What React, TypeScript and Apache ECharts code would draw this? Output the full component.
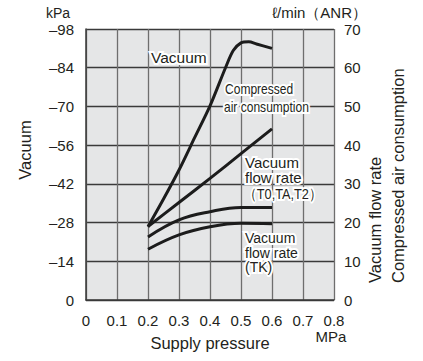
import React, { useEffect, useRef } from "react";
import * as echarts from "echarts";

// Supply pressure (MPa) sample points
const vacuumPressure = [0.2, 0.25, 0.3, 0.35, 0.4, 0.45, 0.475, 0.5, 0.525, 0.55, 0.6];
// Vacuum (kPa, magnitude; plotted on left axis)
const vacuumKPa = [26.5, 36.5, 47.0, 58.6, 70.2, 84.0, 90.2, 93.0, 93.4, 92.6, 91.0];

const flowPressure = [0.2, 0.3, 0.4, 0.5, 0.6];
// Compressed air consumption (l/min ANR)
const airConsumption = [19.0, 25.2, 31.4, 37.8, 44.2];
// Vacuum flow rate T0, TA, T2
const flowT0 = [16.3, 20.7, 22.8, 23.9, 23.9];
// Vacuum flow rate TK
const flowTK = [13.1, 16.8, 18.9, 19.8, 19.7];

const xTicks = { min: 0, max: 0.8, interval: 0.1 };
const leftTicks = { min: 0, max: 98, interval: 14 };
const rightTicks = { min: 0, max: 70, interval: 10 };

const FONT = "'Liberation Sans', Arial, Helvetica, sans-serif";
const INK = "#231f20";

function pairs(xs: number[], ys: number[]) {
  return xs.map((x, i) => [x, ys[i]]);
}

export default function App() {
  const ref = useRef<HTMLDivElement>(null);
  useEffect(() => {
    if (!ref.current) return;
    const chart = echarts.init(ref.current, undefined, { renderer: "svg" });
    const lineStyle = { color: "#1c1c1c", width: 3 };
    const labelStyle = (text: string, extra: any = {}) => ({
      text,
      fill: INK,
      fontSize: 15,
      fontFamily: FONT,
      stroke: "#fff",
      lineWidth: 4,
      align: "left",
      verticalAlign: "middle",
      ...extra,
    });
    const plainText = (text: string, extra: any = {}) => ({
      text,
      fill: INK,
      fontSize: 15,
      fontFamily: FONT,
      ...extra,
    });
    chart.setOption({
      animation: false,
      backgroundColor: "#ffffff",
      grid: { left: 86, top: 29, width: 248, height: 271, show: true, backgroundColor: "#e5e6e7", borderWidth: 0 },
      xAxis: {
        type: "value",
        ...xTicks,
        axisLine: { show: true, lineStyle: { color: "#3a3a3a", width: 1.5 } },
        axisTick: { show: false },
        splitLine: { show: true, lineStyle: { color: "#6e6e6e", width: 1.3 } },
        axisLabel: {
          margin: 13,
          fontSize: 15,
          fontFamily: FONT,
          color: INK,
          formatter: (v: number) => String(Math.round(v * 10) / 10),
        },
      },
      yAxis: [
        {
          type: "value",
          ...leftTicks,
          axisLine: { show: true, lineStyle: { color: "#3a3a3a", width: 1.5 } },
          axisTick: { show: false },
          splitLine: { show: true, lineStyle: { color: "#3a3a3a", width: 1.3 } },
          axisLabel: {
            margin: 12,
            fontSize: 15,
            fontFamily: FONT,
            color: INK,
            formatter: (v: number) => (v === 0 ? "0" : "–" + v),
          },
        },
        {
          type: "value",
          ...rightTicks,
          position: "right",
          axisLine: { show: false },
          axisTick: { show: false },
          splitLine: { show: false },
          axisLabel: { margin: 10, fontSize: 15, fontFamily: FONT, color: INK },
        },
      ],
      series: [
        { type: "line", yAxisIndex: 0, data: pairs(vacuumPressure, vacuumKPa), smooth: 0.3, symbol: "none", lineStyle },
        { type: "line", yAxisIndex: 1, data: pairs(flowPressure, airConsumption), smooth: 0.3, symbol: "none", lineStyle },
        { type: "line", yAxisIndex: 1, data: pairs(flowPressure, flowT0), smooth: 0.4, symbol: "none", lineStyle },
        { type: "line", yAxisIndex: 1, data: pairs(flowPressure, flowTK), smooth: 0.4, symbol: "none", lineStyle },
      ],
      graphic: [
        { type: "text", x: 46, y: 13, style: plainText("kPa", { fontSize: 14, align: "left", verticalAlign: "middle" }) },
        { type: "text", x: 367, y: 12, style: plainText("ℓ/min（ANR）", { align: "right", verticalAlign: "middle" }) },
        { type: "text", x: 25, y: 150, rotation: Math.PI / 2, style: plainText("Vacuum", { fontSize: 16.5, align: "center", verticalAlign: "middle" }) },
        { type: "text", x: 375, y: 283, rotation: Math.PI / 2, style: plainText("Vacuum flow rate", { fontSize: 16.5, align: "left", verticalAlign: "middle" }) },
        { type: "text", x: 398, y: 283, rotation: Math.PI / 2, style: plainText("Compressed air consumption", { fontSize: 16.5, align: "left", verticalAlign: "middle" }) },
        { type: "text", x: 210, y: 343, style: plainText("Supply pressure", { fontSize: 16.5, align: "center", verticalAlign: "middle" }) },
        { type: "text", x: 331, y: 336, style: plainText("MPa", { align: "center", verticalAlign: "middle" }) },
        { type: "text", x: 151, y: 57, z: 100, style: labelStyle("Vacuum", { fontSize: 15.5 }) },
        { type: "text", x: 225, y: 89, z: 100, scaleX: 0.86, style: labelStyle("Compressed", { fontSize: 14 }) },
        { type: "text", x: 224, y: 107, z: 100, scaleX: 0.86, style: labelStyle("air consumption", { fontSize: 14 }) },
        { type: "text", x: 245, y: 162, z: 100, style: labelStyle("Vacuum") },
        { type: "text", x: 245, y: 177.5, z: 100, style: labelStyle("flow rate") },
        { type: "text", x: 244, y: 193.5, z: 100, scaleX: 0.85, style: labelStyle("（T0,TA,T2）") },
        { type: "text", x: 245, y: 238, z: 100, style: labelStyle("Vacuum", { fontSize: 14 }) },
        { type: "text", x: 245, y: 252.5, z: 100, style: labelStyle("flow rate", { fontSize: 14 }) },
        { type: "text", x: 245, y: 267, z: 100, style: labelStyle("(TK)", { fontSize: 14 }) },
      ],
    });
    return () => chart.dispose();
  }, []);
  return (
    <div
      ref={ref}
      style={{ position: "fixed", left: 0, top: 0, width: 423, height: 361, background: "#fff" }}
    />
  );
}
